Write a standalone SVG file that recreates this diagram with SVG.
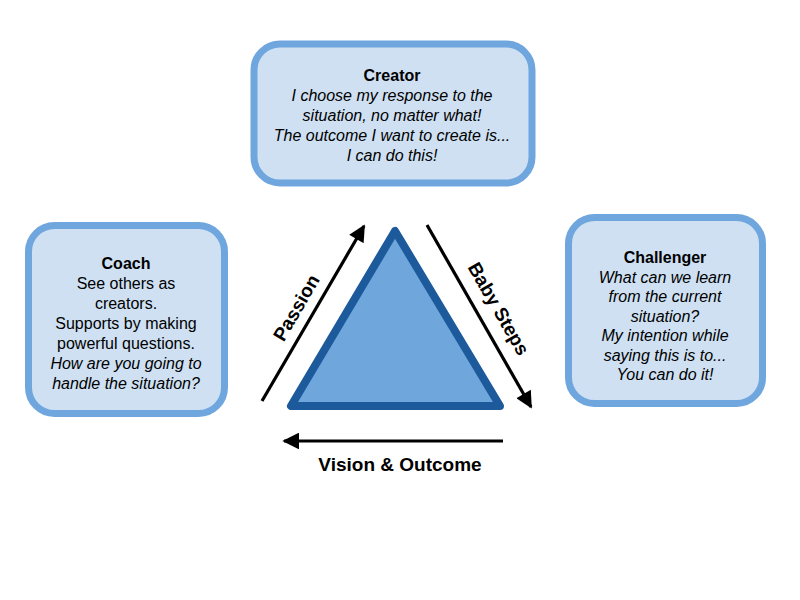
<svg xmlns="http://www.w3.org/2000/svg" width="800" height="600" viewBox="0 0 800 600">
<defs>
<style>
.box{fill:#cfe0f3;stroke:#6ea6dd;stroke-width:7}
text{font-family:"Liberation Sans",Arial,sans-serif;font-size:16px;fill:#000;text-anchor:middle}
.t{font-weight:bold}
.i{font-style:italic}
.lbl{font-weight:bold;font-size:19px}
.arr{stroke:#000;stroke-width:3.2;fill:none}
</style>
<marker id="ah" viewBox="0 0 10 10" refX="9" refY="5" markerWidth="6" markerHeight="5.2" orient="auto" markerUnits="strokeWidth">
<path d="M0,0 L10,5 L0,10 z" fill="#000"/>
</marker>
</defs>
<rect width="800" height="600" fill="#fff"/>
<g id="creator">
<rect class="box" x="254" y="44" width="278" height="139" rx="26"/>
<text x="392" y="81" class="t">Creator</text>
<text x="392" y="101" class="i">I choose my response to the</text>
<text x="392" y="121" class="i">situation, no matter what!</text>
<text x="392" y="141" class="i">The outcome I want to create is...</text>
<text x="392" y="161" class="i">I can do this!</text>
</g>
<g id="coach">
<rect class="box" x="28.5" y="225.5" width="196" height="188" rx="26"/>
<text x="126" y="269" class="t">Coach</text>
<text x="126" y="289">See others as</text>
<text x="126" y="309">creators.</text>
<text x="126" y="329">Supports by making</text>
<text x="126" y="349">powerful questions.</text>
<text x="126" y="369" class="i">How are you going to</text>
<text x="126" y="389" class="i">handle the situation?</text>
</g>
<g id="challenger">
<rect class="box" x="568.5" y="217.5" width="194" height="186" rx="26"/>
<text x="665" y="263" class="t">Challenger</text>
<text x="665" y="282.5" class="i">What can we learn</text>
<text x="665" y="302" class="i">from the current</text>
<text x="665" y="321.5" class="i">situation?</text>
<text x="665" y="341" class="i">My intention while</text>
<text x="665" y="360.5" class="i">saying this is to...</text>
<text x="665" y="380" class="i">You can do it!</text>
</g>
<g id="triangle">
<polygon points="395,231 291,406 500,406" fill="#6fa6dc" stroke="#1c5a9c" stroke-width="8" stroke-linejoin="round"/>
</g>
<g id="connectors">
<line class="arr" x1="262" y1="401" x2="364" y2="226" marker-end="url(#ah)"/>
<line class="arr" x1="427" y1="225" x2="531" y2="407" marker-end="url(#ah)"/>
<line class="arr" x1="503" y1="441" x2="284" y2="441" marker-end="url(#ah)"/>
</g>
<text class="lbl" transform="translate(302,311) rotate(-60)">Passion</text>
<text class="lbl" transform="translate(493,312) rotate(60)">Baby Steps</text>
<text class="lbl" x="400" y="471">Vision &amp; Outcome</text>
</svg>
